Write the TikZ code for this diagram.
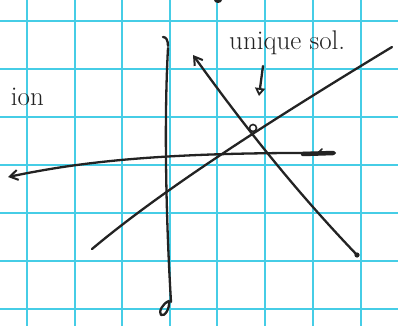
\documentclass[tikz,border=0pt]{standalone}
\usetikzlibrary{arrows.meta}
\definecolor{gridcyan}{RGB}{70,205,230}
\definecolor{ink}{RGB}{35,35,35}
\tikzset{
  gridline/.style={draw=gridcyan, line width=1.6pt},
  pen/.style={draw=ink, line width=2.3pt, line cap=round, line join=round},
  penbarbL/.style={pen, {Straight Barb[length=8pt,width=10pt,line width=2pt]}-},
  hand/.style={text=ink, font=\fontsize{27}{27}\selectfont, inner sep=0pt}
}
\begin{document}
\begin{tikzpicture}[x=1pt,y=-1pt]
\useasboundingbox (0,0) rectangle (398,326);
\fill[white] (0,0) rectangle (398,326);
% grid
\foreach \gx in {27,75,122,170,217,265,313,361} \draw[gridline] (\gx,0) -- (\gx,326);
\foreach \gy in {21,69,117,165,213,261,309} \draw[gridline] (0,\gy) -- (398,\gy);

% coordinates
\coordinate (vtop) at (168,48);
\coordinate (vbot) at (171,302);
\coordinate (hl) at (8,177);
\coordinate (hr) at (335,153);
\coordinate (rl) at (92,249);
\coordinate (rr) at (392,47);
\coordinate (dt) at (193,55);
\coordinate (db) at (357,255);
\coordinate (sol) at (253,128);
\coordinate (aTop) at (263,66);
\coordinate (aBot) at (259,96);

% vertical axis
\draw[pen] (vtop) .. controls (164,120) and (166,220) .. (vbot);
\draw[pen] (168,46) .. controls (168,40) and (166,37) .. (163,37);
\draw[pen] (169,301) .. controls (163,303) and (158,312) .. (161,315) .. controls (165,317) and (170,308) .. (169,301);

% horizontal axis (curved, arrows)
\draw[penbarbL] (hl) .. controls (80,162) and (160,152) .. (hr);
\draw[ink, line width=4.5pt, line cap=round] (303,154) -- (333,153);
\draw[pen, line width=1.6pt] (318,153) -- (322,149);

% rising line
\draw[pen] (rl) .. controls (160,192) and (260,127) .. (rr);

% descending line with arrow at top
\draw[penbarbL] (dt) .. controls (240,120) and (290,185) .. (db);
\fill[ink] (db) circle (2.6pt);

% solution point
\node[draw=ink, line width=1.6pt, circle, minimum size=7pt, inner sep=0pt] (solpt) at (sol) {};

% label and its arrow
\node[hand, anchor=base west] (lbl) at (229,50) {unique sol.};
\draw[pen, -{Triangle[open,length=8pt,width=10pt,line width=1.8pt]}] (aTop) -- (aBot);

% cut-off texts
\node[hand, anchor=base east] (ion) at (44,106) {ion};
\fill[ink] (218,0) ellipse (4pt and 3pt);
\end{tikzpicture}
\end{document}
